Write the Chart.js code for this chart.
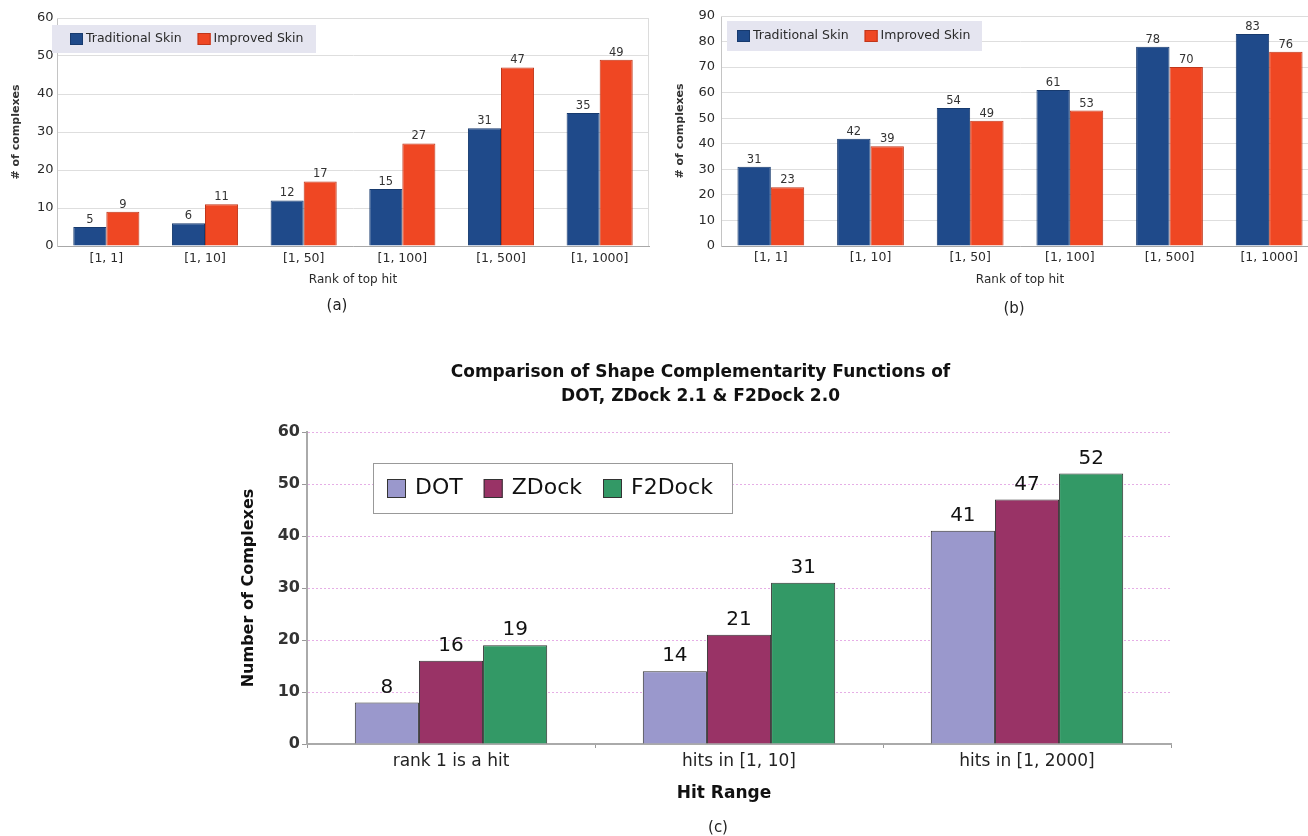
<!DOCTYPE html>
<html>
<head>
<meta charset="utf-8">
<script src="https://cdn.jsdelivr.net/npm/chart.js@4/dist/chart.umd.min.js"></script>
<style>
  html, body { margin: 0; padding: 0; background: #fff; }
  body { width: 1308px; height: 836px; overflow: hidden; position: relative; font-family: "DejaVu Sans", sans-serif; }
  canvas { position: absolute; display: block; }
  .cap { position: absolute; transform: translate(-50%, -50%); white-space: nowrap; color: #222; }
</style>
</head>
<body>
<canvas id="skinA" width="660" height="320" style="left:0;top:0"></canvas>
<canvas id="skinB" width="680" height="320" style="left:660px;top:0"></canvas>
<canvas id="shape" width="960" height="486" style="left:230px;top:350px"></canvas>
<div class="cap" style="left:337px;top:305px;font-size:15px">(a)</div>
<div class="cap" style="left:1014px;top:308px;font-size:15px">(b)</div>
<div class="cap" style="left:724px;top:792px;font-size:17px;font-weight:bold;color:#111">Hit Range</div>
<div class="cap" style="left:718px;top:827px;font-size:15px">(c)</div>
<script>
// Panels (a) and (b): rank of the top hit, traditional vs. improved skin
const rankCats = ['[1, 1]', '[1, 10]', '[1, 50]', '[1, 100]', '[1, 500]', '[1, 1000]'];
const tradSkinA = [5, 6, 12, 15, 31, 35];
const imprSkinA = [9, 11, 17, 27, 47, 49];
const tradSkinB = [31, 42, 54, 61, 78, 83];
const imprSkinB = [23, 39, 49, 53, 70, 76];

// Panel (c): shape complementarity functions
const hitCats = ['rank 1 is a hit', 'hits in [1, 10]', 'hits in [1, 2000]'];
const dotHits = [8, 14, 41];
const zdockHits = [16, 21, 47];
const f2dockHits = [19, 31, 52];

const FONT = '"DejaVu Sans", sans-serif';

// value printed above every bar
const valueLabels = {
  id: 'valueLabels',
  afterDatasetsDraw(chart, args, o) {
    const ctx = chart.ctx;
    ctx.save();
    ctx.font = o.font;
    ctx.fillStyle = o.color;
    ctx.textAlign = 'center';
    ctx.textBaseline = 'middle';
    chart.data.datasets.forEach((ds, i) => {
      chart.getDatasetMeta(i).data.forEach((bar, j) => {
        ctx.fillText(String(ds.data[j]), bar.x, bar.y - o.offset);
      });
    });
    ctx.restore();
  }
};

// legend drawn as a filled box inside the plot
const boxLegend = {
  id: 'boxLegend',
  afterDraw(chart, args, o) {
    const ctx = chart.ctx;
    ctx.save();
    ctx.fillStyle = o.fill;
    ctx.fillRect(o.x, o.y, o.w, o.h);
    if (o.stroke) {
      ctx.strokeStyle = o.stroke;
      ctx.lineWidth = o.lineWidth;
      ctx.strokeRect(o.x + 0.5, o.y + 0.5, o.w - 1, o.h - 1);
    }
    ctx.font = o.font;
    ctx.textBaseline = 'middle';
    ctx.textAlign = 'left';
    const cy = o.y + o.h / 2;
    let x = o.x + o.padX;
    chart.data.datasets.forEach(ds => {
      ctx.fillStyle = ds.backgroundColor;
      ctx.fillRect(x, cy - o.sqH / 2, o.sqW, o.sqH);
      ctx.strokeStyle = ds.borderColor;
      ctx.lineWidth = 1;
      ctx.strokeRect(x + 0.5, cy - o.sqH / 2 + 0.5, o.sqW - 1, o.sqH - 1);
      x += o.sqW + o.gap;
      ctx.fillStyle = o.color;
      ctx.fillText(ds.label, x, cy + (o.textDy || 0));
      x += ctx.measureText(ds.label).width + o.spacing;
    });
    ctx.restore();
  }
};

// thin outline round the plotting area
const plotFrame = {
  id: 'plotFrame',
  beforeDatasetsDraw(chart, args, o) {
    const {ctx, chartArea: a} = chart;
    ctx.save();
    ctx.strokeStyle = o.color;
    ctx.lineWidth = 1;
    ctx.beginPath();
    ctx.moveTo(a.left, a.top + 0.5);
    ctx.lineTo(a.right - 0.5, a.top + 0.5);
    ctx.lineTo(a.right - 0.5, a.bottom);
    ctx.stroke();
    ctx.restore();
  }
};

function skinChart(id, trad, impr, yMax, g) {
  return new Chart(document.getElementById(id), {
    type: 'bar',
    data: {
      labels: rankCats,
      datasets: [
        { label: 'Traditional Skin', data: trad, backgroundColor: '#1f4a8a', borderColor: '#173a6e',
          borderWidth: 1, categoryPercentage: 0.67, barPercentage: 1 },
        { label: 'Improved Skin', data: impr, backgroundColor: '#ef4723', borderColor: '#c0361a',
          borderWidth: 1, categoryPercentage: 0.67, barPercentage: 1 }
      ]
    },
    options: {
      responsive: false, animation: false, devicePixelRatio: 1,
      layout: { padding: { left: 0, right: g.right, top: g.top, bottom: 0 } },
      scales: {
        x: {
          grid: { display: false, drawTicks: false },
          border: { display: true, color: '#a8a8a8', width: 1 },
          ticks: { font: { family: FONT, size: 12.5 }, color: '#2a2a2a', padding: g.xTickPad },
          title: { display: true, text: 'Rank of top hit', font: { family: FONT, size: 12 }, color: '#2a2a2a',
                   padding: { top: 0, bottom: 32.8 } },
          afterFit(s) { s.height = g.xh; }
        },
        y: {
          min: 0, max: yMax,
          ticks: { stepSize: 10, font: { family: FONT, size: 13 }, color: '#2a2a2a', padding: g.tickPad },
          grid: { color: '#dedede', drawTicks: false },
          border: { display: true, color: '#c4c4c4', width: 1 },
          title: { display: true, text: '# of complexes', font: { family: FONT, size: 11, weight: 'bold' }, color: '#333',
                   padding: { top: g.titlePad, bottom: 0 } },
          afterFit(s) { s.width = g.yw; }
        }
      },
      plugins: {
        legend: { display: false },
        tooltip: { enabled: false },
        plotFrame: { color: '#dcdcdc' },
        valueLabels: { font: '11.5px ' + FONT, color: '#333', offset: 7 },
        boxLegend: Object.assign({ fill: '#e5e5f0', stroke: null, font: '12.5px ' + FONT, color: '#2a2a2a',
                                   sqW: 13, sqH: 12, gap: 3, spacing: 16 }, g.legend)
      }
    },
    plugins: [plotFrame, boxLegend, valueLabels]
  });
}

skinChart('skinA', tradSkinA, imprSkinA, 60,
  { right: 11, top: 18, xh: 74, yw: 57, tickPad: 3.4, titlePad: 9.4, xTickPad: 4.8,
    legend: { x: 52, y: 25, w: 264, h: 28, padX: 18 } });

skinChart('skinB', tradSkinB, imprSkinB, 90,
  { right: 21, top: 16, xh: 74, yw: 61, tickPad: 6, titlePad: 14, xTickPad: 4.5,
    legend: { x: 67, y: 21, w: 255, h: 30, padX: 10 } });

new Chart(document.getElementById('shape'), {
  type: 'bar',
  data: {
    labels: hitCats,
    datasets: [
      { label: 'DOT', data: dotHits, backgroundColor: '#9a98cc', borderColor: '#333',
        borderWidth: 1, categoryPercentage: 0.668, barPercentage: 1 },
      { label: 'ZDock', data: zdockHits, backgroundColor: '#993366', borderColor: '#333',
        borderWidth: 1, categoryPercentage: 0.668, barPercentage: 1 },
      { label: 'F2Dock', data: f2dockHits, backgroundColor: '#339966', borderColor: '#333',
        borderWidth: 1, categoryPercentage: 0.668, barPercentage: 1 }
    ]
  },
  options: {
    responsive: false, animation: false, devicePixelRatio: 1,
    layout: { padding: { left: 0, right: 19, top: 0, bottom: 0 } },
    scales: {
      x: {
        grid: { display: true, drawOnChartArea: false, drawTicks: true, tickLength: 4, color: '#999' },
        border: { display: true, color: '#aaa', width: 2 },
        ticks: { font: { family: FONT, size: 17 }, color: '#222', padding: 3.5 },
        afterFit(s) { s.height = 92; }
      },
      y: {
        min: 0, max: 60,
        ticks: { stepSize: 10, font: { family: FONT, size: 16, weight: 'bold' }, color: '#333', padding: 2 },
        grid: { color: c => c.tick && c.tick.value === 0 ? 'rgba(0,0,0,0)' : '#e6aee6',
                tickLength: 5, tickColor: '#999' },
        border: { display: true, color: '#aaa', width: 2, dash: [2, 2] },
        title: { display: true, text: 'Number of Complexes', font: { family: FONT, size: 16, weight: 'bold' },
                 color: '#111', padding: { top: 9.4, bottom: 0 } },
        afterFit(s) { s.width = 77; }
      }
    },
    plugins: {
      legend: { display: false },
      tooltip: { enabled: false },
      title: {
        display: true,
        text: ['Comparison of Shape Complementarity Functions of', 'DOT, ZDock 2.1 & F2Dock 2.0'],
        font: { family: FONT, size: 17, weight: 'bold', lineHeight: '24px' },
        color: '#111',
        padding: { top: 10.7, bottom: 23.3 }
      },
      valueLabels: { font: '20px ' + FONT, color: '#111', offset: 15 },
      boxLegend: { x: 143, y: 113, w: 360, h: 51, padX: 14, fill: '#fff', stroke: '#999', lineWidth: 1,
                   font: '22px ' + FONT, color: '#111', sqW: 19, sqH: 19, gap: 9, spacing: 21 }
    }
  },
  plugins: [boxLegend, valueLabels]
});
</script>
</body>
</html>
